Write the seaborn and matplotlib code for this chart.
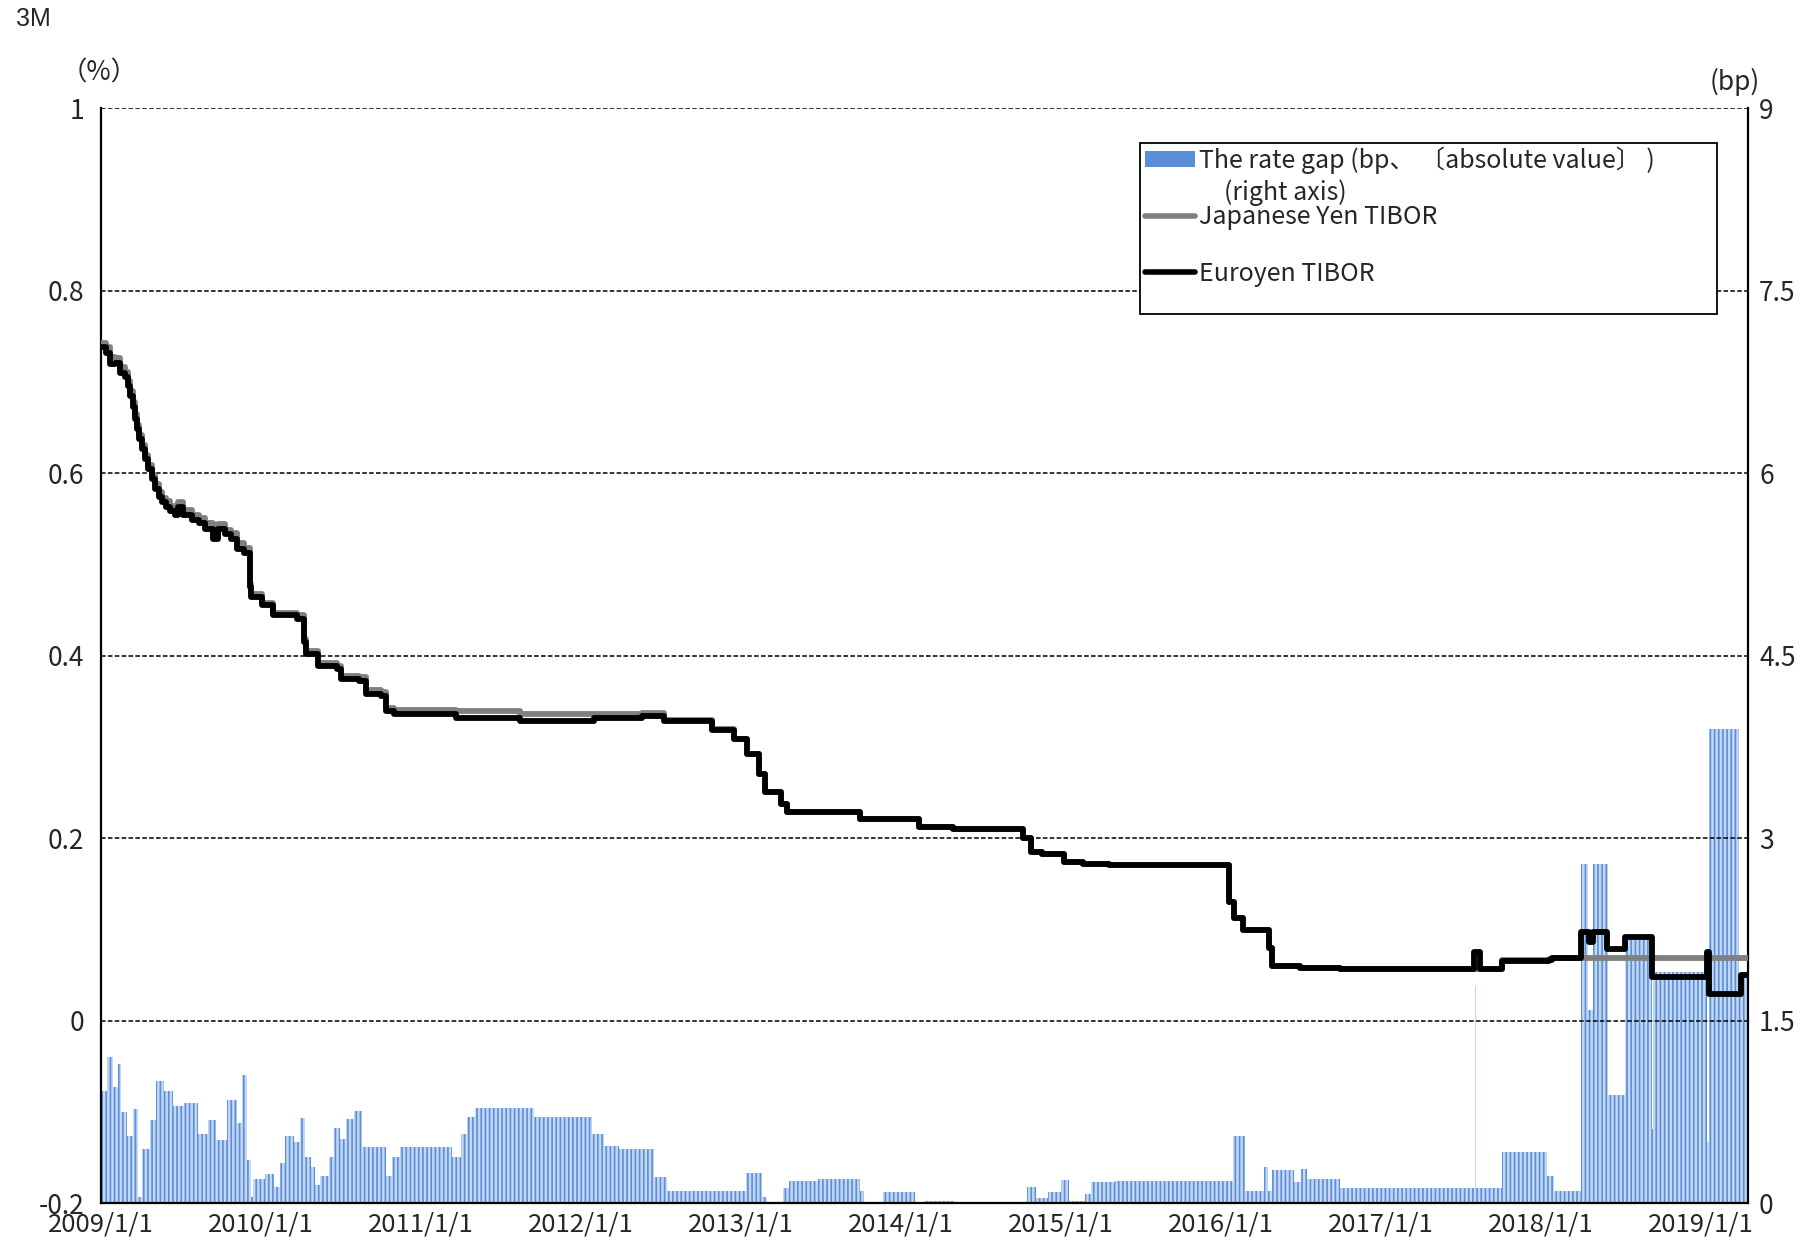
import seaborn as sns
import matplotlib.pyplot as plt
import matplotlib.dates as mdates
from matplotlib.patches import Patch, Rectangle
from matplotlib.lines import Line2D
import pandas as pd
import numpy as np

sns.set_style("white")
plt.rcParams['font.family'] = ['Noto Sans CJK JP', 'DejaVu Sans']
plt.rcParams['axes.unicode_minus'] = False
plt.rcParams['hatch.linewidth'] = 1.2

# TIBOR 3M (%) at the change points
rate_dates = [
    "2009-01-01", "2009-01-12", "2009-01-20", "2009-02-01", "2009-02-12", "2009-02-24",
    "2009-03-02", "2009-03-08", "2009-03-14", "2009-03-20", "2009-03-24", "2009-03-28",
    "2009-04-03", "2009-04-10", "2009-04-18", "2009-04-26", "2009-05-04", "2009-05-12",
    "2009-05-20", "2009-05-28", "2009-06-08", "2009-06-18", "2009-06-26", "2009-07-06",
    "2009-07-28", "2009-08-12", "2009-08-26", "2009-09-12", "2009-09-24", "2009-10-10",
    "2009-10-24", "2009-11-08", "2009-11-24", "2009-12-06", "2009-12-10", "2010-01-04",
    "2010-01-29", "2010-03-24", "2010-04-08", "2010-04-14", "2010-05-10", "2010-06-24",
    "2010-07-02", "2010-08-12", "2010-08-28", "2010-10-01", "2010-10-12", "2010-11-01",
    "2011-03-22", "2011-08-14", "2012-02-01", "2012-05-20", "2012-07-10", "2012-10-26",
    "2012-12-15", "2013-01-15", "2013-02-10", "2013-02-24", "2013-04-01", "2013-04-16",
    "2013-09-30", "2014-02-12", "2014-04-30", "2014-10-06", "2014-10-24", "2014-11-20",
    "2015-01-08", "2015-02-20", "2015-04-20", "2016-01-20", "2016-02-01", "2016-02-20",
    "2016-04-20", "2016-04-28", "2016-07-01", "2016-09-30", "2017-08-01", "2017-08-14",
    "2017-10-04", "2018-01-20", "2018-01-27", "2018-04-02", "2018-04-22", "2018-05-01",
    "2018-06-02", "2018-07-12", "2018-09-12", "2019-01-15", "2019-01-20", "2019-04-02",
    "2019-04-19",
]
euroyen = [
    0.738, 0.732, 0.719, 0.721, 0.710, 0.705,
    0.695, 0.684, 0.672, 0.659, 0.648, 0.637,
    0.626, 0.615, 0.604, 0.593, 0.583, 0.574,
    0.568, 0.563, 0.558, 0.554, 0.563, 0.554,
    0.548, 0.545, 0.539, 0.528, 0.539, 0.533,
    0.528, 0.517, 0.512, 0.475, 0.464, 0.455,
    0.444, 0.440, 0.415, 0.402, 0.389, 0.385,
    0.374, 0.372, 0.358, 0.356, 0.339, 0.336,
    0.332, 0.328, 0.331, 0.334, 0.328, 0.318,
    0.308, 0.292, 0.270, 0.250, 0.237, 0.229,
    0.221, 0.212, 0.210, 0.200, 0.185, 0.182,
    0.174, 0.171, 0.170, 0.130, 0.112, 0.099,
    0.079, 0.060, 0.058, 0.056, 0.075, 0.056,
    0.065, 0.066, 0.069, 0.097, 0.086, 0.097,
    0.078, 0.091, 0.048, 0.075, 0.029, 0.050,
    0.050,
]
jpy_tibor = [
    0.742, 0.738, 0.727, 0.726, 0.716, 0.711,
    0.701, 0.690, 0.678, 0.665, 0.653, 0.642,
    0.631, 0.620, 0.609, 0.598, 0.588, 0.579,
    0.573, 0.569, 0.564, 0.560, 0.568, 0.560,
    0.554, 0.551, 0.545, 0.534, 0.544, 0.538,
    0.534, 0.523, 0.518, 0.478, 0.467, 0.458,
    0.447, 0.444, 0.418, 0.405, 0.392, 0.389,
    0.378, 0.376, 0.362, 0.360, 0.343, 0.340,
    0.339, 0.336, 0.336, 0.337, 0.329, 0.319,
    0.308, 0.292, 0.270, 0.250, 0.237, 0.229,
    0.221, 0.212, 0.210, 0.200, 0.185, 0.182,
    0.174, 0.171, 0.170, 0.130, 0.112, 0.099,
    0.079, 0.060, 0.058, 0.056, 0.056, 0.056,
    0.066, 0.067, 0.069, 0.069, 0.069, 0.069,
    0.069, 0.069, 0.069, 0.069, 0.069, 0.069,
    0.069,
]

# rate gap (bp, absolute value), start date of each level
gap_dates = [
    "2009-01-01", "2009-01-14", "2009-01-27", "2009-02-09", "2009-02-16", "2009-03-01",
    "2009-03-14", "2009-03-27", "2009-04-03", "2009-04-22", "2009-05-05", "2009-05-25",
    "2009-06-13", "2009-07-09", "2009-08-10", "2009-09-01", "2009-09-21", "2009-10-16",
    "2009-11-06", "2009-11-19", "2009-11-29", "2009-12-08", "2009-12-14", "2010-01-10",
    "2010-01-30", "2010-02-12", "2010-02-25", "2010-03-17", "2010-03-30", "2010-04-12",
    "2010-04-25", "2010-05-05", "2010-05-16", "2010-06-06", "2010-06-17", "2010-06-30",
    "2010-07-13", "2010-08-02", "2010-08-19", "2010-10-13", "2010-10-26", "2010-11-15",
    "2011-03-13", "2011-04-02", "2011-04-15", "2011-05-05", "2011-09-17", "2012-01-26",
    "2012-02-24", "2012-03-29", "2012-06-17", "2012-07-16", "2013-01-13", "2013-02-18",
    "2013-03-01", "2013-04-06", "2013-04-20", "2013-06-26", "2013-09-30", "2013-10-08",
    "2013-11-20", "2014-02-03", "2014-02-22", "2014-05-03", "2014-10-15", "2014-11-06",
    "2014-12-02", "2015-01-01", "2015-01-20", "2015-02-26", "2015-03-10", "2015-05-04",
    "2016-01-30", "2016-02-25", "2016-04-09", "2016-04-18", "2016-04-28", "2016-06-17",
    "2016-07-03", "2016-07-16", "2016-09-30", "2017-08-03", "2017-08-07", "2017-10-04",
    "2018-01-15", "2018-01-31", "2018-04-02", "2018-04-19", "2018-04-30", "2018-06-03",
    "2018-07-12", "2018-09-11", "2018-09-14", "2019-01-16", "2019-01-21", "2019-03-30",
    "2019-04-19",
]
gap_bp = [
    0.92, 1.20, 0.95, 1.14, 0.75, 0.55,
    0.77, 0.05, 0.44, 0.68, 1.00, 0.92,
    0.80, 0.82, 0.57, 0.68, 0.52, 0.85,
    0.66, 1.05, 0.35, 0.05, 0.20, 0.24,
    0.13, 0.33, 0.55, 0.50, 0.70, 0.38,
    0.30, 0.15, 0.22, 0.38, 0.62, 0.53,
    0.69, 0.76, 0.46, 0.22, 0.38, 0.46,
    0.38, 0.57, 0.71, 0.78, 0.71, 0.57,
    0.47, 0.44, 0.21, 0.10, 0.25, 0.05,
    0.00, 0.12, 0.18, 0.20, 0.10, 0.00,
    0.09, 0.00, 0.015, 0.005, 0.13, 0.04,
    0.09, 0.19, 0.02, 0.07, 0.17, 0.185,
    0.55, 0.10, 0.30, 0.10, 0.27, 0.17,
    0.28, 0.20, 0.12, 1.78, 0.12, 0.42,
    0.22, 0.10, 2.79, 1.59, 2.79, 0.89,
    2.16, 0.61, 1.90, 0.50, 3.90, 1.89,
]

year_ticks = list(range(2009, 2020))
left_ticks = [-0.2, 0, 0.2, 0.4, 0.6, 0.8, 1]
left_labels = ["-0.2", "0", "0.2", "0.4", "0.6", "0.8", "1"]
right_ticks = [0, 1.5, 3, 4.5, 6, 7.5, 9]
right_labels = ["0", "1.5", "3", "4.5", "6", "7.5", "9"]

rates = pd.DataFrame({"date": pd.to_datetime(rate_dates), "euroyen": euroyen, "jpy": jpy_tibor})
gap_edges = mdates.date2num(pd.to_datetime(gap_dates))

fig = plt.figure(figsize=(18.18, 12.46), dpi=100)
ax = fig.add_axes([0.0557, 0.0345, 0.9058, 0.8788])
ax2 = ax.twinx()
ax.set_zorder(ax2.get_zorder() + 1)
ax.patch.set_visible(False)

# gap bars on the right axis
ax2.bar(gap_edges[:-1], gap_bp, width=np.diff(gap_edges), align="edge",
        facecolor="#c4d8f4", edgecolor="#5a8ed8", hatch="||||", linewidth=0)
ax2.set_ylim(0, 9)
ax2.set_yticks(right_ticks)
ax2.set_yticklabels(right_labels, va="center_baseline")

for v in [0, 0.2, 0.4, 0.6, 0.8, 1.0]:
    ax.axhline(v, color="black", lw=1.1, ls=(0, (3, 1.5)), zorder=1)

sns.lineplot(data=rates, x="date", y="jpy", ax=ax, color="#808080", lw=4.2,
             drawstyle="steps-post", zorder=3)
sns.lineplot(data=rates, x="date", y="euroyen", ax=ax, color="black", lw=4.2,
             drawstyle="steps-post", zorder=4)

ax.set_xlim(pd.Timestamp("2009-01-01"), pd.Timestamp("2019-04-19"))
ax.set_ylim(-0.2, 1)
ax.set_yticks(left_ticks)
ax.set_yticklabels(left_labels, va="center_baseline")
ax.set_xticks([pd.Timestamp(f"{y}-01-01") for y in year_ticks])
ax.set_xticklabels([f"{y}/1/1" for y in year_ticks])
ax.set_xlabel("")
ax.set_ylabel("")

for a in (ax, ax2):
    for s in a.spines.values():
        s.set_visible(False)
for s in ("left", "bottom", "right"):
    ax.spines[s].set_visible(True)
    ax.spines[s].set_color("black")
    ax.spines[s].set_linewidth(1.6)

ax.tick_params(axis="y", length=0, pad=12, labelsize=19)
ax.tick_params(axis="x", length=0, pad=6, labelsize=18.5)
ax2.tick_params(axis="y", length=0, pad=8, labelsize=19)

# legend: frame drawn by hand, entries placed inside it
ax.add_patch(Rectangle((0.631, 0.812), 0.35, 0.156, transform=ax.transAxes, facecolor="white",
                       edgecolor="black", lw=1.3, zorder=9))
handles = [
    Patch(facecolor="#5a8ed8", edgecolor="none"),
    Line2D([], [], color="#808080", lw=4),
    Line2D([], [], color="black", lw=4),
]
labels = ["The rate gap (bp、 〔absolute value〕 )", "Japanese Yen TIBOR", "Euroyen TIBOR"]
leg = ax.legend(handles, labels, loc="upper left", bbox_to_anchor=(0.634, 0.965),
                fontsize=18, frameon=False, handlelength=2.0, handleheight=0.6,
                handletextpad=0.15, borderpad=0, labelspacing=1.22, borderaxespad=0)
leg.set_zorder(10)
ax.text(0.682, 0.923, "(right axis)", transform=ax.transAxes, fontsize=18,
        va="center", ha="left", zorder=11)

fig.text(16 / 1818, 1 - 19 / 1246, "3M", fontsize=18, family="Liberation Sans", va="center", ha="left")
fig.text(99 / 1818, 1 - 73 / 1246, "（%）", fontsize=19, va="center", ha="center")
fig.text(1735 / 1818, 1 - 82 / 1246, "(bp)", fontsize=19, va="center", ha="center")

plt.savefig("out.png", dpi=100)
